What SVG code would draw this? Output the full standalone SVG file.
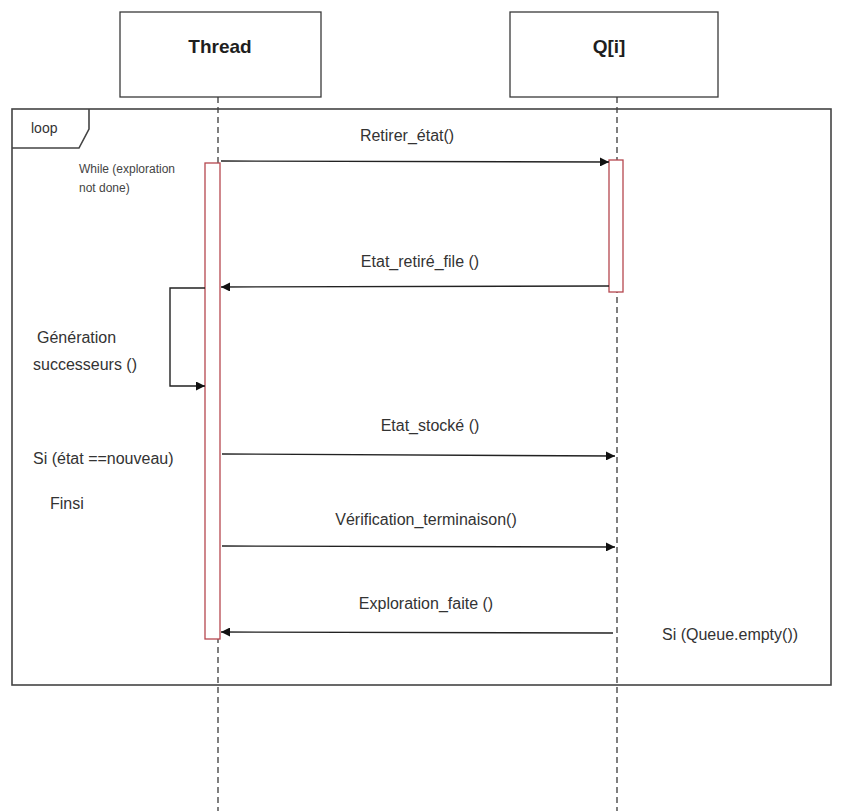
<svg xmlns="http://www.w3.org/2000/svg" width="842" height="811" viewBox="0 0 842 811">
  <style>
    .box { fill: #ffffff; stroke: #3a3a3a; stroke-width: 1.3; }
    .title { font-family: "Liberation Sans", Arial, sans-serif; font-weight: bold; font-size: 19px; fill: #1e1e1e; text-anchor: middle; }
    .life { stroke: #2a2a2a; stroke-width: 1.2; stroke-dasharray: 6 4; fill: none; }
    .act { fill: #ffffff; stroke: #b5474f; stroke-width: 1.3; }
    .frame { fill: none; stroke: #444444; stroke-width: 1.6; }
    .msg { stroke: #222222; stroke-width: 1.4; fill: none; }
    .lbl { font-family: "Liberation Sans", Arial, sans-serif; font-size: 16px; fill: #333333; }
    .mid { text-anchor: middle; }
    .small { font-family: "Liberation Sans", Arial, sans-serif; font-size: 12px; fill: #444444; }
  </style>
  <defs>
    <marker id="arrow" viewBox="0 0 10 10" refX="10" refY="5" markerWidth="10" markerHeight="9" markerUnits="userSpaceOnUse" orient="auto">
      <path d="M0,0 L10,5 L0,10 Z" fill="#111111"/>
    </marker>
  </defs>

  <rect width="842" height="811" fill="#ffffff"/>

  <!-- lifelines -->
  <g id="lifelines">
    <line class="life" x1="218" y1="97" x2="218" y2="811"/>
    <line class="life" x1="617" y1="97" x2="617" y2="811"/>
  </g>

  <!-- combined fragment: loop -->
  <g id="loop-fragment">
    <rect class="frame" x="12" y="109" width="819" height="576"/>
    <path class="frame" d="M89,109 L89,129 L79,148 L12,148"/>
    <text class="lbl" x="31" y="133" style="font-size:14px">loop</text>
    <text class="small" x="79" y="173">While (exploration</text>
    <text class="small" x="79" y="192">not done)</text>
  </g>

  <!-- participants -->
  <g id="thread">
    <rect class="box" x="120" y="12" width="201" height="85"/>
    <text class="title" x="220" y="53">Thread</text>
    <rect class="act" x="205" y="163" width="15" height="476"/>
  </g>
  <g id="queue">
    <rect class="box" x="510" y="12" width="208" height="85"/>
    <text class="title" x="609" y="53">Q[i]</text>
    <rect class="act" x="609" y="160" width="14" height="132"/>
  </g>

  <!-- messages -->
  <g id="connectors">
    <line class="msg" x1="221" y1="161" x2="609" y2="162" marker-end="url(#arrow)"/>
    <line class="msg" x1="609" y1="286" x2="221" y2="287" marker-end="url(#arrow)"/>
    <polyline class="msg" points="205,288 170,288 170,386 205,386" marker-end="url(#arrow)"/>
    <line class="msg" x1="222" y1="454" x2="615" y2="456" marker-end="url(#arrow)"/>
    <line class="msg" x1="222" y1="546" x2="615" y2="547" marker-end="url(#arrow)"/>
    <line class="msg" x1="613" y1="633" x2="221" y2="632" marker-end="url(#arrow)"/>
  </g>

  <!-- labels -->
  <g id="labels">
    <text class="lbl mid" x="407" y="141">Retirer_état()</text>
    <text class="lbl mid" x="420" y="267">Etat_retiré_file ()</text>
    <text class="lbl" x="37" y="343">Génération</text>
    <text class="lbl" x="33" y="370">successeurs ()</text>
    <text class="lbl mid" x="430" y="431">Etat_stocké ()</text>
    <text class="lbl" x="33" y="464">Si (état ==nouveau)</text>
    <text class="lbl" x="50" y="509">Finsi</text>
    <text class="lbl mid" x="426" y="525">Vérification_terminaison()</text>
    <text class="lbl mid" x="426" y="609">Exploration_faite ()</text>
    <text class="lbl" x="662" y="640">Si (Queue.empty())</text>
  </g>
</svg>
